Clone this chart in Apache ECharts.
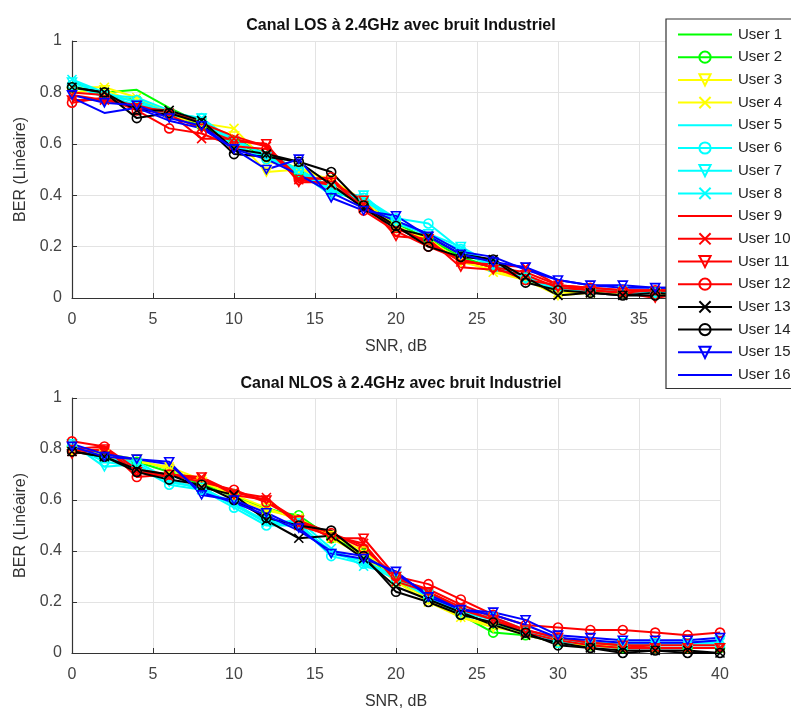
<!DOCTYPE html>
<html><head><meta charset="utf-8">
<script src="https://cdn.jsdelivr.net/npm/echarts@6/dist/echarts.min.js"></script>
<style>html,body{margin:0;padding:0;background:#fff}#c{width:791px;height:711px}</style>
</head><body><div id="c"></div>
<script>
const snr = [0,2,4,6,8,10,12,14,16,18,20,22,24,26,28,30,32,34,36,38,40];
const xTicks = [0,5,10,15,20,25,30,35,40];
const yTicks = [0,0.2,0.4,0.6,0.8,1];
const userNames = ['User 1','User 2','User 3','User 4','User 5','User 6','User 7','User 8','User 9','User 10','User 11','User 12','User 13','User 14','User 15','User 16'];
const userColors = ['#00ff00','#00ff00','#ffff00','#ffff00','#00ffff','#00ffff','#00ffff','#00ffff','#ff0000','#ff0000','#ff0000','#ff0000','#000000','#000000','#0000ff','#0000ff'];
const userMarkers = ['none','o','v','x','none','o','v','x','none','x','v','o','x','o','v','none'];
const titleLOS = 'Canal LOS à 2.4GHz avec bruit Industriel';
const titleNLOS = 'Canal NLOS à 2.4GHz avec bruit Industriel';
const xName = 'SNR, dB';
const yName = 'BER (Linéaire)';

// LOS channel BER per user
const los1  = [0.84,0.80,0.81,0.74,0.68,0.62,0.56,0.50,0.43,0.36,0.28,0.22,0.15,0.12,0.08,0.04,0.03,0.02,0.02,0.01,0.01];
const los2  = [0.82,0.79,0.77,0.72,0.67,0.61,0.55,0.49,0.42,0.37,0.29,0.23,0.16,0.12,0.08,0.04,0.03,0.02,0.02,0.02,0.01];
const los3  = [0.80,0.81,0.76,0.71,0.68,0.63,0.49,0.50,0.46,0.38,0.27,0.23,0.14,0.11,0.07,0.01,0.02,0.02,0.02,0.01,0.01];
const los4  = [0.82,0.82,0.78,0.72,0.68,0.66,0.53,0.51,0.45,0.37,0.28,0.22,0.15,0.10,0.07,0.02,0.02,0.02,0.02,0.01,0.01];
const los5  = [0.85,0.79,0.78,0.73,0.69,0.62,0.55,0.49,0.42,0.38,0.30,0.25,0.18,0.12,0.08,0.03,0.03,0.02,0.02,0.02,0.02];
const los6  = [0.83,0.78,0.77,0.72,0.70,0.60,0.54,0.50,0.43,0.39,0.31,0.29,0.19,0.13,0.08,0.03,0.03,0.03,0.02,0.02,0.02];
const los7  = [0.84,0.79,0.75,0.71,0.70,0.59,0.55,0.49,0.40,0.40,0.29,0.25,0.20,0.13,0.07,0.04,0.03,0.02,0.02,0.02,0.01];
const los8  = [0.85,0.80,0.76,0.72,0.70,0.61,0.56,0.50,0.42,0.39,0.30,0.24,0.19,0.12,0.08,0.04,0.03,0.03,0.02,0.02,0.02];
const los9  = [0.80,0.79,0.74,0.73,0.68,0.63,0.59,0.47,0.46,0.35,0.28,0.21,0.15,0.12,0.10,0.05,0.04,0.03,0.03,0.03,0.03];
const los10 = [0.79,0.77,0.75,0.72,0.62,0.62,0.59,0.46,0.44,0.36,0.27,0.22,0.14,0.13,0.12,0.05,0.03,0.02,0.03,0.02,0.02];
const los11 = [0.77,0.77,0.74,0.71,0.66,0.61,0.60,0.45,0.45,0.38,0.24,0.23,0.12,0.11,0.09,0.04,0.03,0.02,0.00,0.02,0.02];
const los12 = [0.76,0.78,0.73,0.66,0.64,0.59,0.58,0.46,0.47,0.34,0.26,0.20,0.15,0.12,0.07,0.05,0.04,0.03,0.03,0.03,0.04];
const los13 = [0.82,0.80,0.73,0.73,0.69,0.58,0.56,0.53,0.44,0.35,0.27,0.24,0.17,0.15,0.08,0.01,0.02,0.01,0.02,0.01,0.01];
const los14 = [0.82,0.80,0.70,0.72,0.68,0.56,0.55,0.53,0.49,0.36,0.28,0.20,0.16,0.15,0.06,0.03,0.02,0.01,0.01,0.01,0.00];
const los15 = [0.79,0.76,0.75,0.70,0.67,0.58,0.50,0.54,0.39,0.34,0.32,0.24,0.17,0.14,0.12,0.07,0.05,0.05,0.04,0.04,0.04];
const los16 = [0.78,0.72,0.74,0.69,0.66,0.58,0.54,0.48,0.41,0.35,0.30,0.25,0.18,0.16,0.11,0.07,0.05,0.04,0.04,0.04,0.03];

// NLOS channel BER per user
const nlos1  = [0.80,0.78,0.76,0.72,0.67,0.61,0.57,0.53,0.46,0.38,0.29,0.22,0.16,0.11,0.08,0.05,0.03,0.02,0.02,0.02,0.02];
const nlos2  = [0.81,0.77,0.75,0.71,0.66,0.62,0.56,0.54,0.45,0.39,0.28,0.22,0.15,0.08,0.07,0.04,0.03,0.02,0.02,0.02,0.02];
const nlos3  = [0.79,0.78,0.76,0.72,0.67,0.62,0.57,0.52,0.46,0.40,0.29,0.21,0.14,0.10,0.08,0.04,0.03,0.03,0.02,0.02,0.02];
const nlos4  = [0.80,0.77,0.75,0.73,0.68,0.61,0.56,0.53,0.45,0.38,0.28,0.20,0.14,0.11,0.07,0.04,0.03,0.02,0.02,0.02,0.02];
const nlos5  = [0.82,0.76,0.74,0.67,0.65,0.58,0.51,0.50,0.40,0.36,0.30,0.22,0.16,0.13,0.08,0.05,0.04,0.04,0.04,0.04,0.04];
const nlos6  = [0.81,0.75,0.73,0.66,0.64,0.57,0.50,0.50,0.38,0.35,0.29,0.22,0.15,0.12,0.08,0.04,0.04,0.03,0.03,0.03,0.03];
const nlos7  = [0.82,0.73,0.74,0.67,0.65,0.58,0.52,0.51,0.39,0.36,0.30,0.23,0.16,0.14,0.09,0.05,0.04,0.04,0.04,0.04,0.05];
const nlos8  = [0.81,0.76,0.75,0.68,0.64,0.59,0.51,0.52,0.41,0.34,0.31,0.22,0.17,0.13,0.09,0.05,0.04,0.03,0.03,0.04,0.04];
const nlos9  = [0.80,0.81,0.72,0.70,0.68,0.63,0.60,0.51,0.47,0.42,0.29,0.25,0.19,0.14,0.09,0.06,0.04,0.03,0.03,0.03,0.03];
const nlos10 = [0.79,0.80,0.71,0.69,0.69,0.63,0.61,0.50,0.46,0.43,0.28,0.24,0.18,0.13,0.08,0.05,0.03,0.02,0.02,0.02,0.02];
const nlos11 = [0.78,0.80,0.71,0.70,0.69,0.62,0.60,0.52,0.45,0.45,0.30,0.24,0.17,0.13,0.09,0.06,0.04,0.03,0.02,0.02,0.02];
const nlos12 = [0.83,0.81,0.69,0.70,0.67,0.64,0.59,0.52,0.47,0.41,0.30,0.27,0.21,0.15,0.11,0.10,0.09,0.09,0.08,0.07,0.08];
const nlos13 = [0.79,0.77,0.72,0.70,0.65,0.62,0.52,0.45,0.46,0.37,0.26,0.21,0.16,0.11,0.07,0.04,0.02,0.01,0.01,0.01,0.00];
const nlos14 = [0.79,0.77,0.71,0.68,0.66,0.60,0.53,0.50,0.48,0.38,0.24,0.20,0.15,0.12,0.08,0.03,0.02,0.00,0.01,0.00,0.00];
const nlos15 = [0.81,0.77,0.76,0.75,0.62,0.60,0.55,0.49,0.39,0.37,0.32,0.22,0.17,0.16,0.13,0.07,0.06,0.05,0.05,0.05,0.06];
const nlos16 = [0.82,0.78,0.76,0.74,0.63,0.59,0.54,0.48,0.40,0.38,0.31,0.23,0.17,0.15,0.11,0.06,0.05,0.04,0.04,0.04,0.05];

const losData = [los1,los2,los3,los4,los5,los6,los7,los8,los9,los10,los11,los12,los13,los14,los15,los16];
const nlosData = [nlos1,nlos2,nlos3,nlos4,nlos5,nlos6,nlos7,nlos8,nlos9,nlos10,nlos11,nlos12,nlos13,nlos14,nlos15,nlos16];

const FONT = 'Liberation Sans, Arial, Helvetica, sans-serif';
const symbolMap = {
  'none': 'none',
  'o': 'circle',
  'v': 'path://M0 0L10 0L5 9Z',
  'x': 'path://M0 0L10 10M10 0L0 10'
};

function makeSeries(data, gi) {
  return data.map((vals, i) => {
    const noMarker = userMarkers[i] === 'none';
    return {
      name: userNames[i],
      type: 'line',
      xAxisIndex: gi, yAxisIndex: gi,
      data: snr.map((x, k) => [x, vals[k]]),
      symbol: symbolMap[userMarkers[i]],
      symbolSize: 9,
      symbolKeepAspect: true,
      showSymbol: !noMarker,
      showAllSymbol: true,
      lineStyle: {color: userColors[i], width: 2},
      itemStyle: {color: 'rgba(255,255,255,0)', borderColor: noMarker ? 'rgba(255,255,255,0)' : userColors[i], borderWidth: noMarker ? 0 : 1.6},
      emphasis: {disabled: true},
      clip: true,
      z: 2
    };
  });
}

function xAxis(gi) {
  return {
    type: 'value', gridIndex: gi, min: 0, max: 40, interval: 5,
    name: xName, nameLocation: 'middle', nameGap: 41,
    nameTextStyle: {fontFamily: FONT, fontSize: 16, color: '#333'},
    axisLine: {show: true, onZero: false, lineStyle: {color: '#333', width: 1.2}},
    axisTick: {show: true, inside: true, length: 5, lineStyle: {color: '#333'}},
    axisLabel: {fontFamily: FONT, fontSize: 16, color: '#444', margin: 14},
    splitLine: {show: true, lineStyle: {color: '#e3e3e3', width: 1}}
  };
}
function yAxis(gi) {
  return {
    type: 'value', gridIndex: gi, min: 0, max: 1, interval: 0.2,
    name: yName, nameLocation: 'middle', nameGap: 39, nameRotate: 90,
    nameTextStyle: {fontFamily: FONT, fontSize: 16, color: '#333'},
    axisLine: {show: true, lineStyle: {color: '#333', width: 1.2}},
    axisTick: {show: true, inside: true, length: 5, lineStyle: {color: '#333'}},
    axisLabel: {fontFamily: FONT, fontSize: 16, color: '#444', margin: 10,
      formatter: v => (Math.round(v*10)/10).toString()},
    splitLine: {show: true, lineStyle: {color: '#e3e3e3', width: 1}}
  };
}

const chart = echarts.init(document.getElementById('c'), null, {renderer: 'canvas'});
chart.setOption({
  animation: false,
  backgroundColor: '#fff',
  title: [
    {text: titleLOS, left: 396, top: 13, textAlign: 'center',
     textStyle: {fontFamily: FONT, fontSize: 16, fontWeight: 'bold', color: '#111'}},
    {text: titleNLOS, left: 396, top: 371, textAlign: 'center',
     textStyle: {fontFamily: FONT, fontSize: 16, fontWeight: 'bold', color: '#111'}}
  ],
  grid: [
    {left: 72, top: 41, width: 648, height: 257},
    {left: 72, top: 398, width: 648, height: 256}
  ],
  xAxis: [xAxis(0), xAxis(1)],
  yAxis: [yAxis(0), yAxis(1)],
  legend: {
    orient: 'vertical', left: 666, top: 19, z: 20,
    data: userNames,
    itemWidth: 54, itemHeight: 14, itemGap: 7.7,
    padding: [8, 20, 6, 11],
    backgroundColor: '#fff', borderColor: '#333', borderWidth: 1.2,
    selectedMode: false,
    textStyle: {fontFamily: FONT, fontSize: 15, color: '#222', padding: [0,0,0,1]}
  },
  series: makeSeries(losData, 0).concat(makeSeries(nlosData, 1))
});
</script></body></html>
